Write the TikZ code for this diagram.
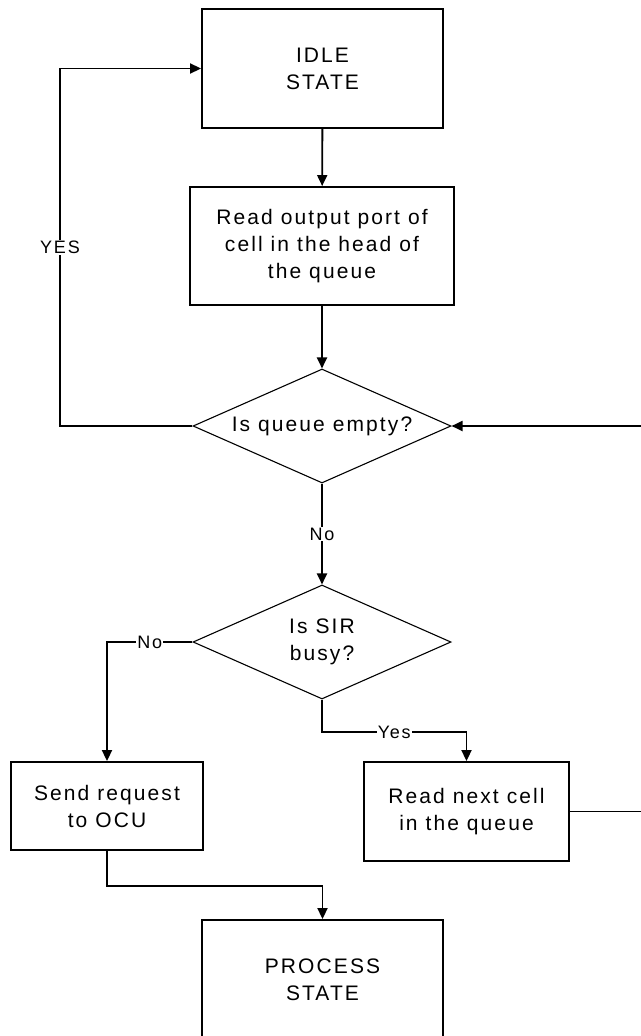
\documentclass[tikz,border=0pt]{standalone}
\usepackage{fontspec}
\setmainfont{Liberation Sans}[LetterSpace=10]
\usetikzlibrary{shapes.geometric,arrows.meta}
\begin{document}
\begin{tikzpicture}[x=1pt,y=-1pt,
  box/.style={draw, line width=1.9pt, align=center, inner sep=0pt,
    font=\fontsize{21}{27}\selectfont},
  dec/.style={draw, diamond, line width=1.1pt, align=center, inner sep=0pt,
    shape aspect=2.26, minimum width=258pt, minimum height=114pt,
    font=\fontsize{21}{27}\selectfont},
  conn/.style={line width=1.9pt, -{Triangle[width=10pt,length=11pt]}},
  lab/.style={fill=white, inner sep=1pt, font=\fontsize{18}{20}\selectfont}]
\useasboundingbox (0,0) rectangle (640,1036);

\node[box, minimum width=241pt, minimum height=119pt] (idle) at (322.5,68.5) {IDLE\\STATE};
\node[box, minimum width=264pt, minimum height=118pt] (read) at (322,246) {Read output port of\\cell in the head of\\the queue};
\node[dec] (empty) at (322,426) {Is queue empty?};
\node[dec] (sir) at (322,642) {Is SIR\\busy?};
\node[box, minimum width=192pt, minimum height=88pt] (send) at (107,806) {Send request\\to OCU};
\node[box, minimum width=205pt, minimum height=99pt] (next) at (466.5,811.5) {Read next cell\\in the queue};
\node[box, minimum width=241pt, minimum height=119pt] (proc) at (322.5,979.5) {PROCESS\\STATE};

\coordinate (yesL) at (60,426);
\coordinate (yesT) at (60,68.5);
\coordinate (noL) at (107,642);
\coordinate (yesB) at (322,732);
\coordinate (yesR) at (466.5,732);
\coordinate (sendB) at (107,886);
\coordinate (procT) at (322.5,886);
\coordinate (loopB) at (660,811.5);
\coordinate (loopT) at (660,426);

\draw[conn] (idle) -- (read);
\draw[conn] (read) -- (empty);
\draw[conn] (empty.west) -- (yesL) -- node[lab, pos=0.5] (lyes) {YES} (yesT) -- (idle.west);
\draw[conn] (next.east) -- (loopB) -- (loopT) -- (empty.east);
\draw[conn] (empty.south) -- node[lab] (lno1) {No} (sir.north);
\draw[conn] (sir.west) -- node[lab, pos=0.5] (lno2) {No} (noL) -- (send.north);
\draw[conn] (sir.south) -- (yesB) -- node[lab, pos=0.5] (lyes2) {Yes} (yesR) -- (next.north);
\draw[conn] (send.south) -- (sendB) -- (procT) -- (proc.north);
\end{tikzpicture}
\end{document}
